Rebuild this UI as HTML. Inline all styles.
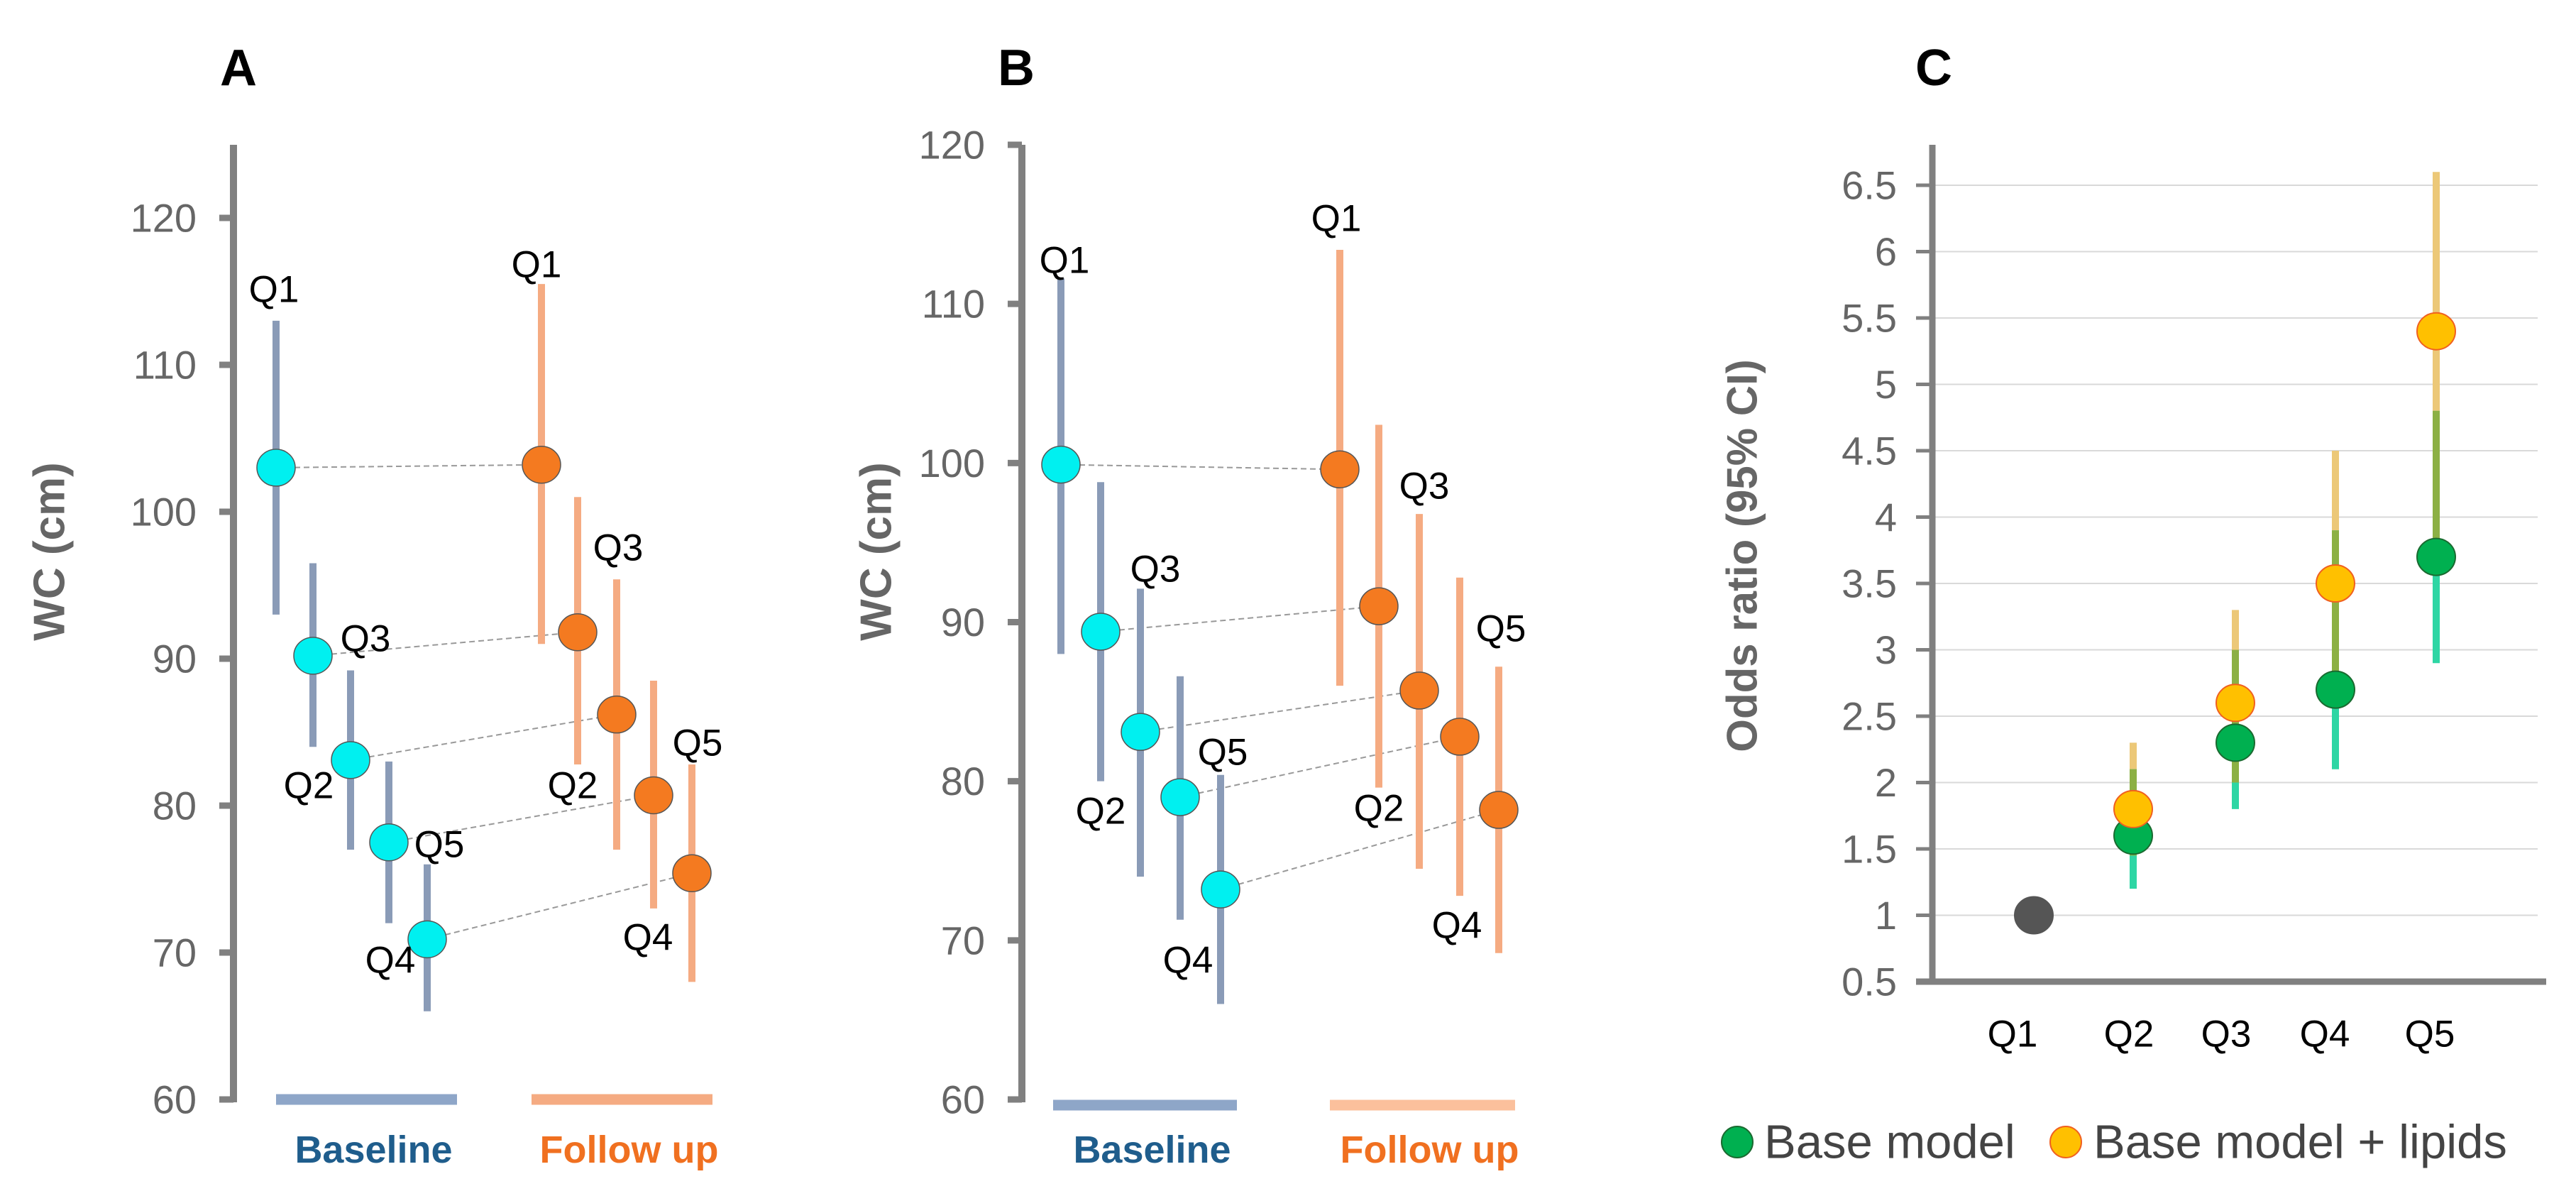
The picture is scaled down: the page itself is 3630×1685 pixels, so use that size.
<!DOCTYPE html>
<html><head><meta charset="utf-8"><style>
html,body{margin:0;padding:0;background:#fff;}
svg{display:block;font-family:"Liberation Sans",Arial,sans-serif;}
</style></head><body>
<svg id="fig" width="3630" height="1685" viewBox="0 0 3630 1685" xmlns="http://www.w3.org/2000/svg">
<text x="310" y="120" font-size="72" font-weight="bold" fill="#000">A</text>
<text x="1406" y="120" font-size="72" font-weight="bold" fill="#000">B</text>
<text x="2699" y="120" font-size="72" font-weight="bold" fill="#000">C</text>
<g id="pa"></g>
<g id="pb"></g>
<g id="pc"></g>
</svg>
<script>
const NS='http://www.w3.org/2000/svg';
// Panel A data
const aTicks=[60,70,80,90,100,110,120];
const aBaseMean=[103,90.2,83.1,77.5,70.9];
const aBaseLo=[93,84,77,72,66];
const aBaseHi=[113,96.5,89.2,83,76];
const aFollowMean=[103.2,91.8,86.2,80.7,75.4];
const aFollowLo=[91,82.8,77,73,68];
const aFollowHi=[115.5,101,95.4,88.5,82.8];
// Panel B data
const bTicks=[60,70,80,90,100,110,120];
const bBaseMean=[99.9,89.4,83.1,79,73.2];
const bBaseLo=[88,80,74,71.3,66];
const bBaseHi=[111.6,98.8,92.1,86.6,80.4];
const bFollowMean=[99.6,91,85.7,82.8,78.2];
const bFollowLo=[86,79.6,74.5,72.8,69.2];
const bFollowHi=[113.4,102.4,96.8,92.8,87.2];
// Panel C data
const cCats=['Q1','Q2','Q3','Q4','Q5'];
const cTicks=[0.5,1,1.5,2,2.5,3,3.5,4,4.5,5,5.5,6,6.5];
const cBase=[1,1.6,2.3,2.7,3.7];
const cBaseLo=[null,1.2,1.8,2.1,2.9];
const cBaseHi=[null,2.1,3.0,3.9,4.8];
const cLip=[null,1.8,2.6,3.5,5.4];
const cLipLo=[null,1.45,2.0,2.7,3.6];
const cLipHi=[null,2.3,3.3,4.5,6.6];

function mk(tag,attrs,parent,txt){const e=document.createElementNS(NS,tag);for(const k in attrs)e.setAttribute(k,attrs[k]);if(txt!==undefined)e.textContent=txt;parent.appendChild(e);return e;}

function wcPanel(g,cfg){
  const y=v=>cfg.y60-(v-60)*cfg.unit;
  const ax=mk('line',{x1:cfg.ax,y1:204,x2:cfg.ax,y2:y(60)+4,stroke:'#808080','stroke-width':10},g);
  
  cfg.ticks.forEach(t=>{
    const tl=mk('line',{x1:cfg.ax-20,y1:y(t),x2:cfg.ax,y2:y(t),stroke:'#808080','stroke-width':9},g);
    
    const tx=mk('text',{x:cfg.ax-52,y:y(t),'text-anchor':'end','dominant-baseline':'central','font-size':56,fill:'#666'},g,String(t));
    
  });
  const tt=mk('text',{x:0,y:0,transform:`translate(${cfg.titleX},777) rotate(-90)`,'text-anchor':'middle','dominant-baseline':'central','font-size':62,'font-weight':'bold',fill:'#666'},g,'WC (cm)');
  
  cfg.bm.forEach((v,i)=>{
    const l=mk('line',{x1:cfg.bx[i],y1:y(v),x2:cfg.fx[i],y2:y(cfg.fm[i]),stroke:'#999','stroke-width':2,'stroke-dasharray':'8,5'},g);
    
  });
  const series=[[cfg.bx,cfg.bm,cfg.bl,cfg.bh,'#8a9bb7','#00f0f0','baseline'],[cfg.fx,cfg.fm,cfg.fl,cfg.fh,cfg.fbar,'#f47a20','follow-up']];
  series.forEach(([xs,m,lo,hi,bc,fc,nm])=>{
    m.forEach((v,i)=>{
      const e=mk('line',{x1:xs[i],y1:y(lo[i]),x2:xs[i],y2:y(hi[i]),stroke:bc,'stroke-width':10},g);
      
    });
  });
  series.forEach(([xs,m,lo,hi,bc,fc,nm])=>{
    m.forEach((v,i)=>{
      const c=mk('ellipse',{cx:xs[i],cy:y(v),rx:27,ry:26,fill:fc,stroke:'#555','stroke-width':1.5},g);
      
    });
  });
  cfg.labels.forEach(([t,x,yy])=>{
    const e=mk('text',{x:x,y:yy,'text-anchor':'middle','dominant-baseline':'central','font-size':53,fill:'#000'},g,t);
    
  });
  const b1=mk('line',{x1:cfg.bb[0],y1:cfg.barY,x2:cfg.bb[1],y2:cfg.barY,stroke:'#8ea6c8','stroke-width':15},g);
  
  const b2=mk('line',{x1:cfg.fb[0],y1:cfg.barY,x2:cfg.fb[1],y2:cfg.barY,stroke:cfg.fgbar,'stroke-width':15},g);
  
  const t1=mk('text',{x:(cfg.bb[0]+cfg.bb[1])/2+10,y:1620,'text-anchor':'middle','dominant-baseline':'central','font-size':54,'font-weight':'bold',fill:'#1f5d8c'},g,'Baseline');
  
  const t2=mk('text',{x:(cfg.fb[0]+cfg.fb[1])/2+10,y:1620,'text-anchor':'middle','dominant-baseline':'central','font-size':54,'font-weight':'bold',fill:'#f07020'},g,'Follow up');
  
}

wcPanel(document.getElementById('pa'),{
  ax:329,y60:1549,unit:(1549-307)/60,ticks:aTicks,titleX:70,
  bx:[389,441,494,548,602],fx:[763,814,869,921,975],
  bm:aBaseMean,bl:aBaseLo,bh:aBaseHi,fm:aFollowMean,fl:aFollowLo,fh:aFollowHi,
  fbar:'#f5ab82',fgbar:'#f5ab82',
  labels:[['Q1',386,408],['Q3',515,900],['Q2',435,1107],['Q5',619,1190],['Q4',550,1353],
          ['Q1',756,373],['Q3',871,772],['Q2',807,1107],['Q5',983,1047],['Q4',913,1321]],
  bb:[389,644],fb:[749,1004],barY:1549
});
wcPanel(document.getElementById('pb'),{
  ax:1440,y60:1549,unit:(1549-204)/60,ticks:bTicks,titleX:1235,
  bx:[1495,1551,1607,1663,1720],fx:[1888,1943,2000,2057,2112],
  bm:bBaseMean,bl:bBaseLo,bh:bBaseHi,fm:bFollowMean,fl:bFollowLo,fh:bFollowHi,
  fbar:'#f5ab82',fgbar:'#fbc09c',
  labels:[['Q1',1500,367],['Q3',1628,802],['Q2',1551,1143],['Q5',1723,1060],['Q4',1674,1353],
          ['Q1',1883,308],['Q3',2007,685],['Q2',1943,1139],['Q5',2115,886],['Q4',2053,1304]],
  bb:[1484,1743],fb:[1874,2135],barY:1557
});

(function(){
  const g=document.getElementById('pc');
  const y=v=>1383-(v-0.5)*(1383-261)/6;
  const xs=[2866,3006,3150,3291,3433];
  const lx=[2836,3000,3137,3276,3424];
  cTicks.forEach(t=>{
    if(t>0.5){const gl=mk('line',{x1:2723,y1:y(t),x2:3576,y2:y(t),stroke:'#d9d9d9','stroke-width':2},g);
    }
    const tk=mk('line',{x1:2700,y1:y(t),x2:2723,y2:y(t),stroke:'#808080','stroke-width':5},g);
    
    const tx=mk('text',{x:2673,y:y(t),'text-anchor':'end','dominant-baseline':'central','font-size':56,fill:'#666'},g,String(t));
    
  });
  const ya=mk('line',{x1:2723,y1:204,x2:2723,y2:1387,stroke:'#808080','stroke-width':9},g);
  
  const xa=mk('line',{x1:2700,y1:1383,x2:3588,y2:1383,stroke:'#808080','stroke-width':9},g);
  
  const tt=mk('text',{x:0,y:0,transform:'translate(2455,783) rotate(-90)','text-anchor':'middle','dominant-baseline':'central','font-size':60,'font-weight':'bold',fill:'#666'},g,'Odds ratio (95% CI)');
  
  cCats.forEach((c,i)=>{
    const t=mk('text',{x:lx[i],y:1457,'text-anchor':'middle','dominant-baseline':'central','font-size':53,fill:'#000'},g,c);
    
  });
  cCats.forEach((c,i)=>{
    if(cLipLo[i]!==null){
      const a=mk('line',{x1:xs[i],y1:y(cLipLo[i]),x2:xs[i],y2:y(cLipHi[i]),stroke:'#ecc878','stroke-width':10},g);
      
      const b=mk('line',{x1:xs[i],y1:y(cBaseLo[i]),x2:xs[i],y2:y(cBaseHi[i]),stroke:'#2ed6a4','stroke-width':10},g);
      
      const lo=Math.max(cLipLo[i],cBaseLo[i]),hi=Math.min(cLipHi[i],cBaseHi[i]);
      if(hi>lo){const o=mk('line',{x1:xs[i],y1:y(lo),x2:xs[i],y2:y(hi),stroke:'#8cb044','stroke-width':10},g);
      }
    }
  });
  cCats.forEach((c,i)=>{
    const p=mk('ellipse',{cx:xs[i],cy:y(cBase[i]),rx:27,ry:26,fill:i===0?'#555':'#00b050',stroke:i===0?'#555':'#1a6a30','stroke-width':2},g);
    
    if(cLip[i]!==null){
      const q=mk('ellipse',{cx:xs[i],cy:y(cLip[i]),rx:27,ry:26,fill:'#ffc000',stroke:'#f06020','stroke-width':2},g);
      
    }
  });
  const l1=mk('circle',{cx:2448,cy:1609,r:22,fill:'#00b050',stroke:'#1a6a30','stroke-width':2},g);
  
  const l1t=mk('text',{x:2486,y:1609,'dominant-baseline':'central','font-size':67,fill:'#444'},g,'Base model');
  
  const l2=mk('circle',{cx:2911,cy:1609,r:22,fill:'#ffc000',stroke:'#f06020','stroke-width':2},g);
  
  const l2t=mk('text',{x:2950,y:1609,'dominant-baseline':'central','font-size':67,fill:'#444'},g,'Base model + lipids');
  
})();
</script>
</body></html>
